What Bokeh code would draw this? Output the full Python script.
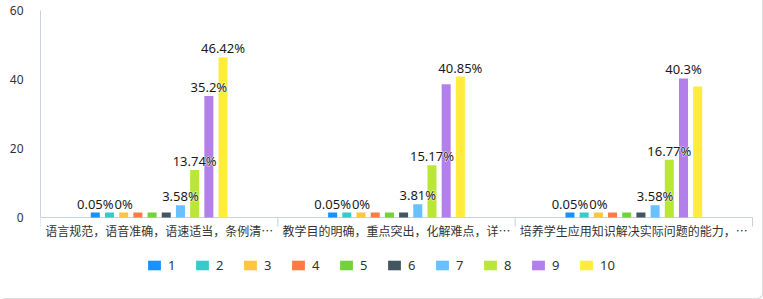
from bokeh.plotting import figure
from bokeh.models import Range1d, FixedTicker, Legend, LegendItem, ColumnDataSource
from bokeh.embed import file_html
from bokeh.resources import INLINE
from bokeh.core.properties import value

categories = [
    "语言规范，语音准确，语速适当，条例清…",
    "教学目的明确，重点突出，化解难点，详…",
    "培养学生应用知识解决实际问题的能力，…",
]
series_names = ["1", "2", "3", "4", "5", "6", "7", "8", "9", "10"]
s1 = [0.05, 0.05, 0.05]
s2 = [0, 0, 0]
s3 = [0, 0, 0]
s4 = [0, 0, 0]
s5 = [0, 0, 0]
s6 = [0, 0, 0]
s7 = [3.58, 3.81, 3.58]
s8 = [13.74, 15.17, 16.77]
s9 = [35.2, 38.6, 40.3]
s10 = [46.42, 40.85, 38.0]
series_values = [s1, s2, s3, s4, s5, s6, s7, s8, s9, s10]
# which labels are visible in the reference (others hidden by overlap)
label_shown = [
    [1, 1, 1], [0, 0, 0], [1, 1, 1], [0, 0, 0], [0, 0, 0],
    [0, 0, 0], [1, 1, 1], [1, 1, 1], [1, 0, 1], [1, 1, 0],
]
colors = ["#1890FF", "#36CBCB", "#FFC53D", "#FF7A45", "#73D13D",
          "#435560", "#69C0FF", "#BAE637", "#B37FEB", "#FFEC3D"]
y_ticks = [0, 20, 40, 60]

W, H = 763, 299
LEFT, TOP = 40, 10
AXIS_RIGHT_PX = 752
AXIS_PX = 217            # pixel row of the value 0
YMAX = 60
ncat = len(categories)
ppu = (AXIS_PX - TOP) / YMAX          # pixels per unit
YMIN = -(H - AXIS_PX) / ppu           # frame extends to the bottom so the legend fits
min_h = 5 / ppu                       # minimum visible bar height (5px)
px = 1 / ppu
gpx = (AXIS_RIGHT_PX - LEFT) / ncat   # pixels per category
XMAX = ncat + (W - AXIS_RIGHT_PX) / gpx

p = figure(width=W, height=H, output_backend="svg", toolbar_location=None,
           x_range=Range1d(0, XMAX), y_range=Range1d(YMIN, YMAX),
           min_border_left=LEFT, min_border_right=0,
           min_border_top=TOP, min_border_bottom=0)
p.outline_line_color = None
p.grid.visible = False
p.background_fill_color = None
p.border_fill_color = None
p.xaxis.visible = False
p.stylesheets = [":host { box-shadow: inset -1px -1px 0 0 #dddddd; border-radius: 0 0 5px 5px; background: white; }"]

axis_col = "#c6d2e0"

# category axis line, boundary ticks and labels
p.segment(x0=[0], y0=[0], x1=[ncat], y1=[0], line_color=axis_col, line_width=1)
p.segment(x0=list(range(ncat + 1)), y0=[0] * (ncat + 1), x1=list(range(ncat + 1)),
          y1=[-9 * px] * (ncat + 1), line_color=axis_col, line_width=1)
p.text(x=[g + 0.5 for g in range(ncat)], y=[0] * ncat, text=categories,
       text_align="center", text_baseline="top", y_offset=4,
       text_font=value("Noto Sans CJK SC"), text_font_size="12px", text_color="#333333")

step = 0.0598
bw = 0.038
items = []
labels = []
for i, (name, vals, col, shown) in enumerate(zip(series_names, series_values, colors, label_shown)):
    xs = [g + 0.5 + (i - 4.5) * step for g in range(ncat)]
    tops = [max(v, min_h) for v in vals]
    src = ColumnDataSource(dict(x=xs, top=tops))
    r = p.vbar(x="x", top="top", bottom=0, width=bw, source=src, fill_color=col, line_color=None)
    items.append(LegendItem(label=name, renderers=[r]))
    for x, t, v, s in zip(xs, tops, vals, shown):
        if s:
            labels.append((x, t, f"{v:g}%"))

lx = [l[0] for l in labels]
ly = [l[1] for l in labels]
lt = [l[2] for l in labels]
# white halo, then the label itself
p.text(x=lx, y=ly, text=lt, text_align="center", text_baseline="alphabetic",
       y_offset=-9, text_font=value("Noto Sans"), text_font_size="13px",
       text_color="white", text_outline_color="white", text_alpha=0.8)
p.text(x=lx, y=ly, text=lt, text_align="center", text_baseline="alphabetic",
       y_offset=-9, text_font=value("Noto Sans"), text_font_size="13px",
       text_color="#1a1a1a")

ya = p.yaxis[0]
ya.ticker = FixedTicker(ticks=y_ticks)
ya.bounds = (0, YMAX)
ya.major_tick_line_color = None
ya.minor_tick_line_color = None
ya.axis_line_color = axis_col
ya.major_label_standoff = 11
ya.major_label_text_font = "Noto Sans"
ya.major_label_text_font_size = "12px"
ya.major_label_text_color = "#333333"

legend = Legend(items=items, orientation="horizontal", location=(106, 25),
                glyph_width=16, glyph_height=12, label_standoff=6,
                label_width=20, label_height=12, spacing=6, padding=0, margin=0,
                label_text_font="Noto Sans", label_text_font_size="13px",
                label_text_color="#333333", border_line_color=None,
                background_fill_alpha=0)
p.add_layout(legend, "center")

open("out.html", "w").write(file_html(p, INLINE))
